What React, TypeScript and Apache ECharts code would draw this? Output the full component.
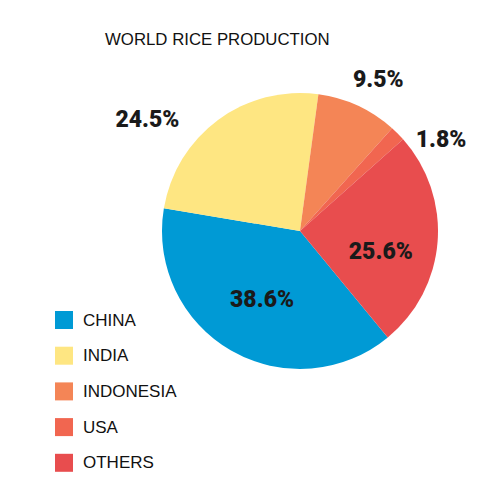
import React, { useEffect, useRef } from "react";
import * as echarts from "echarts";

const titleText = "WORLD RICE PRODUCTION";
const categories = ["CHINA", "INDIA", "INDONESIA", "USA", "OTHERS"];
const shares = [38.6, 24.5, 9.5, 1.8, 25.6];
const colors = ["#009AD5", "#FEE682", "#F48556", "#F16650", "#E84D4E"];
const insideLabel = [true, false, false, false, true];
const lineLen = [0, 1, 29, 0, 0];
const lineLen2 = [0, 33, 0, 13, 0];
const labelShift: number[][] = [[-2, 6], [0, 0], [-22, 0], [0, 6], [9, 15]];

const pctFont = "Roboto, 'Liberation Sans', Arial, sans-serif";
const plainFont = "'Liberation Sans', Arial, Helvetica, sans-serif";

export default function App() {
  const ref = useRef<HTMLDivElement>(null);
  useEffect(() => {
    if (!ref.current) return;
    const chart = echarts.init(ref.current, null, { renderer: "svg" });
    const data = categories.map((name, i) => ({
      name,
      value: shares[i],
      itemStyle: { color: colors[i] },
      label: { position: insideLabel[i] ? "inside" : "outside" },
      labelLine: { show: false, length: lineLen[i], length2: lineLen2[i] },
    }));
    chart.setOption({
      animation: false,
      backgroundColor: "#ffffff",
      title: {
        text: titleText,
        left: 92,
        top: 18,
        textStyle: { fontSize: 16.8, fontWeight: "normal", color: "#111111", fontFamily: plainFont },
      },
      legend: {
        orient: "vertical",
        left: 47,
        top: 303,
        icon: "rect",
        itemWidth: 18,
        itemHeight: 18,
        itemGap: 17.7,
        padding: 0,
        data: categories,
        textStyle: { fontSize: 17, color: "#111111", fontFamily: plainFont, padding: [0, 0, 0, 5] },
      },
      series: [
        {
          type: "pie",
          center: [292, 223],
          radius: 138,
          startAngle: -50.5,
          clockwise: true,
          avoidLabelOverlap: false,
          itemStyle: { borderWidth: 0 },
          label: {
            show: true,
            formatter: (p: any) => `${p.value}%`,
            fontSize: 23,
            fontWeight: 900,
            color: "#1a1a1a",
            fontFamily: pctFont,
          },
          labelLayout: (p: any) => ({ dx: labelShift[p.dataIndex][0], dy: labelShift[p.dataIndex][1] }),
          emphasis: { disabled: true },
          data,
        },
      ],
    });
    return () => chart.dispose();
  }, []);
  return <div ref={ref} style={{ width: 500, height: 500 }} />;
}
